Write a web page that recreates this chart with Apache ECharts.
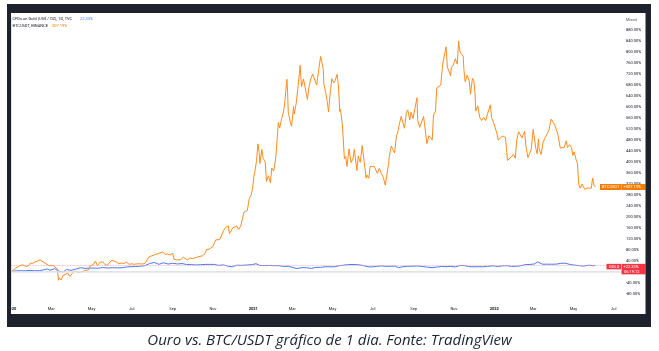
<!DOCTYPE html>
<html><head><meta charset="utf-8">
<script src="https://cdn.jsdelivr.net/npm/echarts@6/dist/echarts.min.js"></script>
<style>html,body{margin:0;padding:0;background:#fff}#c{width:659px;height:351px}</style>
</head><body><div id="c"></div>
<script>
const startDate = '2020-01-01';
const btcDates = [
'2020-01-01','2020-01-04','2020-01-07','2020-01-10','2020-01-14','2020-01-18','2020-01-22','2020-01-26','2020-01-29','2020-02-02','2020-02-06','2020-02-09','2020-02-13','2020-02-16','2020-02-19','2020-02-22','2020-02-26','2020-02-29','2020-03-04','2020-03-07','2020-03-10','2020-03-12','2020-03-13','2020-03-16','2020-03-19','2020-03-22','2020-03-26','2020-03-29','2020-04-02','2020-04-06','2020-04-09','2020-04-12','2020-04-16','2020-04-19','2020-04-23','2020-04-27','2020-04-29','2020-05-03','2020-05-07','2020-05-10','2020-05-14','2020-05-18','2020-05-21','2020-05-25','2020-05-28','2020-06-01','2020-06-03','2020-06-07','2020-06-11','2020-06-15','2020-06-19','2020-06-23','2020-06-27','2020-07-01','2020-07-05','2020-07-09','2020-07-13','2020-07-17','2020-07-21','2020-07-24','2020-07-27','2020-07-31','2020-08-02','2020-08-06','2020-08-10','2020-08-13','2020-08-17','2020-08-20','2020-08-24','2020-08-28','2020-09-01','2020-09-03','2020-09-06','2020-09-09','2020-09-13','2020-09-17','2020-09-20','2020-09-23','2020-09-27','2020-10-01','2020-10-05','2020-10-09','2020-10-12','2020-10-16','2020-10-20','2020-10-22','2020-10-26','2020-10-29','2020-11-01','2020-11-05','2020-11-08','2020-11-11','2020-11-13','2020-11-17','2020-11-20','2020-11-24','2020-11-26','2020-11-28','2020-12-01','2020-12-04','2020-12-07','2020-12-10','2020-12-13','2020-12-16','2020-12-18','2020-12-20','2020-12-23','2020-12-26','2020-12-29','2020-12-31',
'2021-01-02','2021-01-03','2021-01-06','2021-01-08','2021-01-10','2021-01-11','2021-01-14','2021-01-16','2021-01-19','2021-01-21','2021-01-24','2021-01-27','2021-01-29','2021-02-01','2021-02-04','2021-02-08','2021-02-10','2021-02-13','2021-02-16','2021-02-18','2021-02-21','2021-02-22','2021-02-23','2021-02-26','2021-02-28','2021-03-03','2021-03-04','2021-03-07','2021-03-10','2021-03-13','2021-03-15','2021-03-18','2021-03-21','2021-03-24','2021-03-26','2021-03-29','2021-04-01','2021-04-04','2021-04-07','2021-04-10','2021-04-13','2021-04-15','2021-04-17','2021-04-18','2021-04-21','2021-04-23','2021-04-25','2021-04-28','2021-04-30','2021-05-03','2021-05-05','2021-05-08','2021-05-10','2021-05-12','2021-05-13','2021-05-16','2021-05-19','2021-05-21','2021-05-23','2021-05-26','2021-05-29','2021-06-01','2021-06-03','2021-06-07','2021-06-09','2021-06-12','2021-06-15','2021-06-18','2021-06-21','2021-06-22','2021-06-25','2021-06-27','2021-06-30','2021-07-03','2021-07-06','2021-07-08','2021-07-11','2021-07-14','2021-07-17','2021-07-20','2021-07-22','2021-07-25','2021-07-26','2021-07-29','2021-08-01','2021-08-03','2021-08-06','2021-08-08','2021-08-10','2021-08-13','2021-08-16','2021-08-18','2021-08-21','2021-08-23','2021-08-26','2021-08-28','2021-08-31','2021-09-03','2021-09-06','2021-09-07','2021-09-10','2021-09-13','2021-09-16','2021-09-19','2021-09-21','2021-09-24','2021-09-27','2021-09-29','2021-10-01','2021-10-04','2021-10-06','2021-10-09','2021-10-12','2021-10-15','2021-10-17','2021-10-20','2021-10-22','2021-10-24','2021-10-27','2021-10-28','2021-10-31','2021-11-03','2021-11-06','2021-11-08','2021-11-10','2021-11-12','2021-11-15','2021-11-16','2021-11-18','2021-11-21','2021-11-24','2021-11-26','2021-11-29','2021-12-01','2021-12-03','2021-12-04','2021-12-07','2021-12-10','2021-12-13','2021-12-16','2021-12-19','2021-12-22','2021-12-26','2021-12-28','2021-12-31',
'2022-01-03','2022-01-05','2022-01-07','2022-01-10','2022-01-13','2022-01-16','2022-01-18','2022-01-21','2022-01-24','2022-01-27','2022-01-30','2022-02-02','2022-02-04','2022-02-07','2022-02-10','2022-02-12','2022-02-16','2022-02-18','2022-02-21','2022-02-24','2022-02-26','2022-03-01','2022-03-02','2022-03-05','2022-03-07','2022-03-09','2022-03-10','2022-03-13','2022-03-16','2022-03-19','2022-03-22','2022-03-25','2022-03-28','2022-03-30','2022-04-02','2022-04-05','2022-04-07','2022-04-11','2022-04-14','2022-04-17','2022-04-20','2022-04-22','2022-04-25','2022-04-28','2022-04-30','2022-05-02','2022-05-05','2022-05-07','2022-05-09','2022-05-11','2022-05-12','2022-05-14','2022-05-16','2022-05-18','2022-05-20','2022-05-23','2022-05-26','2022-05-28','2022-05-30','2022-06-01','2022-06-03'];
const btcValues = [
0,2,12,11,22,24,19,20,30,30,35,40,42,37,33,35,22,19,21,24,10,-32,-23,-31,-14,-20,-6,-18,-6,1,-1,-4,-1,-1,4,7,21,24,38,21,34,35,26,22,32,41,34,35,28,31,29,34,26,28,26,28,28,27,30,33,53,57,54,62,65,62,71,63,63,60,66,44,42,42,43,52,51,42,49,47,50,53,59,57,66,80,81,84,91,115,115,116,126,149,160,166,138,140,159,159,165,153,166,196,216,223,222,266,280,303,
347,358,403,464,432,393,444,411,400,328,348,322,376,365,412,542,522,556,583,622,699,650,579,544,528,600,572,611,676,750,672,700,696,626,665,700,718,715,678,731,782,776,735,681,647,618,580,661,701,686,694,717,675,582,590,533,410,418,382,446,396,410,444,367,419,397,458,397,339,351,339,382,386,382,375,357,375,356,342,314,346,392,418,456,453,431,494,508,533,564,538,521,579,588,551,579,556,594,632,551,524,524,564,557,465,494,486,478,569,583,668,663,678,756,754,817,744,749,711,742,751,774,754,838,801,792,783,735,690,714,693,644,703,694,644,583,603,560,549,561,549,575,606,560,542,
544,503,478,481,492,499,488,404,410,417,426,412,478,508,506,486,510,456,414,432,443,517,511,447,428,482,447,425,471,486,489,515,554,554,536,532,503,449,454,451,475,451,461,451,422,435,407,393,318,303,301,318,314,299,306,304,306,303,340,314,307.19];
const goldDates = [
'2020-01-01','2020-01-08','2020-01-15','2020-01-22','2020-01-29','2020-02-05','2020-02-12','2020-02-19','2020-02-24','2020-02-28','2020-03-06','2020-03-09','2020-03-13','2020-03-19','2020-03-24','2020-03-31','2020-04-07','2020-04-14','2020-04-21','2020-04-28','2020-05-05','2020-05-12','2020-05-18','2020-05-26','2020-06-02','2020-06-09','2020-06-16','2020-06-23','2020-06-30','2020-07-07','2020-07-14','2020-07-21','2020-07-28','2020-08-04','2020-08-06','2020-08-11','2020-08-18','2020-08-25','2020-09-01','2020-09-08','2020-09-15','2020-09-22','2020-09-29','2020-10-06','2020-10-13','2020-10-20','2020-10-27','2020-11-03','2020-11-06','2020-11-09','2020-11-17','2020-11-24','2020-11-30','2020-12-07','2020-12-14','2020-12-21','2020-12-31',
'2021-01-05','2021-01-11','2021-01-19','2021-01-26','2021-02-02','2021-02-09','2021-02-16','2021-02-23','2021-03-02','2021-03-08','2021-03-16','2021-03-23','2021-03-30','2021-04-06','2021-04-13','2021-04-20','2021-04-27','2021-05-04','2021-05-11','2021-05-18','2021-05-25','2021-06-01','2021-06-08','2021-06-15','2021-06-17','2021-06-24','2021-06-30','2021-07-07','2021-07-14','2021-07-21','2021-07-28','2021-08-04','2021-08-09','2021-08-16','2021-08-23','2021-08-30','2021-09-06','2021-09-13','2021-09-20','2021-09-29','2021-10-06','2021-10-13','2021-10-20','2021-10-27','2021-11-03','2021-11-10','2021-11-16','2021-11-23','2021-11-30','2021-12-07','2021-12-15','2021-12-22','2021-12-31',
'2022-01-06','2022-01-13','2022-01-20','2022-01-27','2022-02-03','2022-02-10','2022-02-17','2022-02-24','2022-03-03','2022-03-08','2022-03-15','2022-03-22','2022-03-29','2022-04-05','2022-04-12','2022-04-18','2022-04-26','2022-05-03','2022-05-10','2022-05-16','2022-05-24','2022-05-31','2022-06-03'];
const goldValues = [
0,2.6,2.4,2.7,4,2.5,3.2,6.3,9.4,4.5,10.4,10.7,0.9,-2.6,7.5,4,8.6,13.8,11.2,12.5,12.3,12.2,14.2,12.7,13.9,13.1,13.8,16.5,17.4,18.3,19.2,21.4,29,33,36,26,32,27,29.9,27.4,28.9,25.2,25.1,23.7,24.6,25.7,25.8,25.8,28.6,22.3,23.9,19,17.1,22.9,22.3,23.3,25.1,
28.5,22,21.3,22,21,21.2,18.3,19,14.5,10.9,14.1,13.8,11.1,14.9,15.1,17.3,17.1,17.3,21,23.1,25.1,25.4,24.8,22.5,17,17.1,16.7,18.9,20.4,18.9,19,19.5,13.9,17.7,19,19.3,20.2,18.3,16.3,13.8,16.1,18.2,17.5,18.5,16.6,22,22,17.9,17,17.6,17.1,18.9,20.6,
18,20.4,21.3,18.4,19,20.5,25.1,25.4,27.6,35.1,26.4,26.6,26.4,26.8,29.7,30.4,25.5,23.1,21.2,19.5,23,21.2,22.33];
const xTickDates = ['2020-01-01','2020-03-01','2020-05-01','2020-07-01','2020-09-01','2020-11-01','2021-01-01','2021-03-01','2021-05-01','2021-07-01','2021-09-01','2021-11-01','2022-01-01','2022-03-01','2022-05-01','2022-07-01'];
const xTickLabels = ['2020','Mar','May','Jul','Sep','Nov','2021','Mar','May','Jul','Sep','Nov','2022','Mar','May','Jul'];
const headerText = 'cyrocleaninvesting published on TradingView.com, Jun 03, 2022 15:39 UTC';
const goldName = 'CFDs on Gold (US$ / OZ), 1D, TVC';
const btcName = 'BTCUSDT, BINANCE';
const caption = 'Ouro vs. BTC/USDT gráfico de 1 dia. Fonte: TradingView';

const t0 = Date.parse(startDate + 'T00:00:00Z');
function dayIdx(s){ return Math.round((Date.parse(s + 'T00:00:00Z') - t0) / 86400000); }
const tickIdx = xTickDates.map(dayIdx);
const FONT = 'Roboto';
const DARK = '#1e222d';
const ORANGE = '#ff8c1f', BLUE = '#4a79f5';

const chart = echarts.init(document.getElementById('c'), null, {renderer: 'canvas'});
const btcLast = btcValues[btcValues.length - 1];
const goldLast = goldValues[goldValues.length - 1];

chart.setOption({
  animation: false,
  backgroundColor: '#ffffff',
  grid: {left: 11, right: 38, top: 18.5, bottom: 46.5},
  xAxis: {
    type: 'value', min: -1, max: 923,
    axisLine: {show: true, lineStyle: {color: '#e0e3eb', width: 1}},
    axisTick: {show: false},
    splitLine: {show: false},
    axisLabel: {
      customValues: tickIdx, margin: 2.5, fontSize: 4, color: '#131722', fontFamily: FONT,
      formatter: function (v) {
        const i = tickIdx.indexOf(Math.round(v));
        if (i < 0) return '';
        const s = xTickLabels[i];
        return /^\d{4}$/.test(s) ? '{b|' + s + '}' : s;
      },
      rich: {b: {fontWeight: 'bold', fontSize: 4, color: '#131722', fontFamily: FONT}}
    }
  },
  yAxis: {
    type: 'value', position: 'right', min: -120, max: 920, interval: 40,
    axisLine: {show: true, lineStyle: {color: '#e0e3eb', width: 1}},
    axisTick: {show: false},
    splitLine: {show: false},
    axisLabel: {
      margin: 5, fontSize: 4, color: '#131722', fontFamily: FONT, align: 'left',
      formatter: function (v) { return (v < -80 || v > 880) ? '' : v.toFixed(2) + '%'; }
    }
  },
  series: [
    {
      name: 'GOLD', type: 'line', showSymbol: false, z: 3,
      data: goldDates.map((d, i) => [dayIdx(d), goldValues[i]]),
      lineStyle: {color: BLUE, width: 1},
      markLine: {
        silent: true, symbol: 'none', label: {show: false}, animation: false,
        data: [
          {yAxis: 0, lineStyle: {color: '#e3e5ea', width: 1.6, type: 'solid'}},
          {yAxis: goldLast, lineStyle: {color: '#f7a3aa', width: 0.8, type: 'dotted'}}
        ]
      }
    },
    {
      name: 'BTCUSDT', type: 'line', showSymbol: false, z: 4,
      data: btcDates.map((d, i) => [dayIdx(d), btcValues[i]]),
      lineStyle: {color: ORANGE, width: 1}
    }
  ]
});

const yB = chart.convertToPixel({yAxisIndex: 0}, btcLast);
const yG = chart.convertToPixel({yAxisIndex: 0}, goldLast);
const yMixed = chart.convertToPixel({yAxisIndex: 0}, 920);

function txt(x, y, s, opt) {
  return {type: 'text', x: x, y: y, z: 200, silent: true,
    style: Object.assign({text: s, fontSize: 4, fontFamily: FONT, fill: '#131722', verticalAlign: 'middle', align: 'left'}, opt || {})};
}
function rect(x, y, w, h, c, z) {
  return {type: 'rect', z: z || 150, silent: true, shape: {x: x, y: y, width: w, height: h}, style: {fill: c}};
}

chart.setOption({
  graphic: [
    // frame
    rect(7, 4, 644, 9, DARK, 300),
    rect(7, 4, 4, 323, DARK, 300),
    rect(645.5, 4, 5.5, 323, DARK, 300),
    rect(7, 314, 644, 13, DARK, 300),
    txt(12, 9, headerText, {fill: '#d1d4dc', fontSize: 4}),
    // legend
    txt(12.5, 19, goldName, {fontSize: 4}),
    txt(80, 19, goldLast.toFixed(2) + '%', {fill: BLUE, fontSize: 4}),
    txt(12.5, 25.5, btcName, {fontSize: 4}),
    txt(52, 25.5, btcLast.toFixed(2) + '%', {fill: '#f57c00', fontSize: 4}),
    txt(626, yMixed + 1, 'Mixed', {fill: '#50535e', fontSize: 4}),
    // price labels
    rect(600, yB - 3, 21.5, 6, '#f57c00', 180),
    txt(602, yB, 'BTCUSDT', {fill: '#fff', fontSize: 4}),
    rect(621.5, yB - 3, 24, 6, '#f57c00', 180),
    txt(623.5, yB, '+' + btcLast.toFixed(2) + '%', {fill: '#fff', fontSize: 4}),
    rect(606.5, yG - 1.5, 14.5, 5.5, '#f23645', 180),
    txt(609, yG + 1.25, 'GOLD', {fill: '#fff', fontSize: 4}),
    rect(621.5, yG - 1.5, 24, 10.5, '#f23645', 180),
    txt(623.5, yG + 1.25, '+' + goldLast.toFixed(2) + '%', {fill: '#fff', fontSize: 4}),
    txt(624, yG + 6.2, '06:19:12', {fill: '#fff', fontSize: 4}),
    // TradingView logo
    txt(11, 320.5, 'TV', {fill: '#ffffff', fontSize: 5, fontWeight: 'bold', z: 400}),
    txt(18, 320.5, 'TradingView', {fill: '#d1d4dc', fontSize: 4.2, z: 400}),
    // caption
    {type: 'text', x: 329.5, y: 341, z: 200, silent: true,
      style: {text: caption, fontSize: 15, fontStyle: 'italic', fontFamily: 'Open Sans', fill: '#1c2233', align: 'center', verticalAlign: 'middle'}}
  ]
});
</script>
</body></html>
